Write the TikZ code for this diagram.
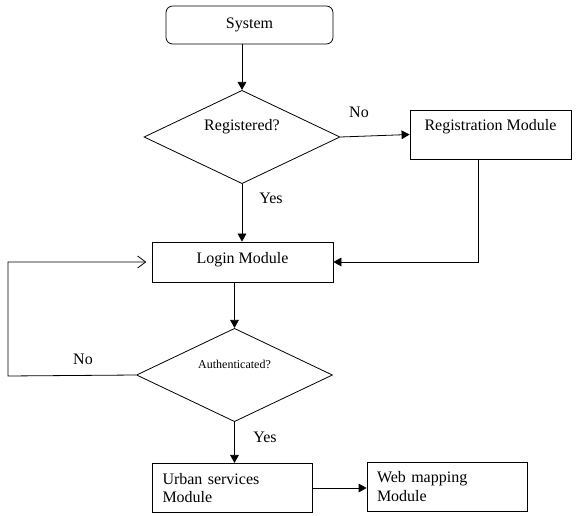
\documentclass[tikz,border=0pt]{standalone}
\usepackage{fontspec}
\setmainfont{Liberation Serif}
\usetikzlibrary{arrows.meta,positioning,shapes.geometric}

\begin{document}
\begin{tikzpicture}[
  x=0.75pt,y=-0.75pt,line width=0.6pt,
  font=\fontsize{12}{14}\selectfont,
  start/.style={draw,rounded corners=5pt,minimum width=125.25pt,minimum height=28.5pt},
  module/.style={draw,minimum width=120.75pt,minimum height=36.75pt},
  longmodule/.style={draw,minimum width=135.75pt,minimum height=30pt,
              text height=8pt,text depth=6pt},
  twoline/.style={draw,text width=105pt,align=left,inner xsep=7.5pt,
              minimum height=37pt},
  decision/.style={draw,diamond,aspect=2.1,minimum width=147pt,minimum height=70pt,
              text height=8pt,text depth=18pt},
  flow/.style={-{Triangle[length=6pt,width=6.5pt]}},
  back/.style={-{Straight Barb[length=6pt,width=9pt]}}
]
\useasboundingbox (0,0) rectangle (577,516);
\node[start] (system) at (249.5,25) {System};
\node[decision] (registered) at (242,137) {Registered?};
\node[module,text height=8pt,text depth=14pt] (regmod) at (490.5,134.5) {Registration Module};
\node[longmodule] (login) at (242.5,262) {Login Module};
\node[decision,font=\fontsize{9}{11}\selectfont] (auth) at (234.5,375) {Authenticated?};
\node[twoline] (urban) at (232.5,488) {Urban services\\Module};
\node[twoline,minimum height=36.75pt] (webmap) at (447,486.5) {Web mapping\\Module};
\node (no1) at (359,112) {No};
\node (yes1) at (271,198) {Yes};
\node (no2) at (83,359) {No};
\node (yes2) at (265,437) {Yes};
\coordinate (loop) at (8,376);
\draw[flow] (registered.north |- system.south) -- (registered.north);
\draw[flow] (registered.east) -- (regmod.west);
\draw[flow] (registered.south) -- (registered.south |- login.north);
\draw[flow] ([xshift=-9pt]regmod.south) |- (login.east);
\draw[flow] (login.south -| auth.north) -- (auth.north);
\draw[back] (auth.west) -- (loop) |- ([xshift=-4pt]login.west);
\draw[flow] (auth.south) -- (auth.south |- urban.north);
\draw[flow] (urban.east) -- (urban.east -| webmap.west);
\end{tikzpicture}
\end{document}
